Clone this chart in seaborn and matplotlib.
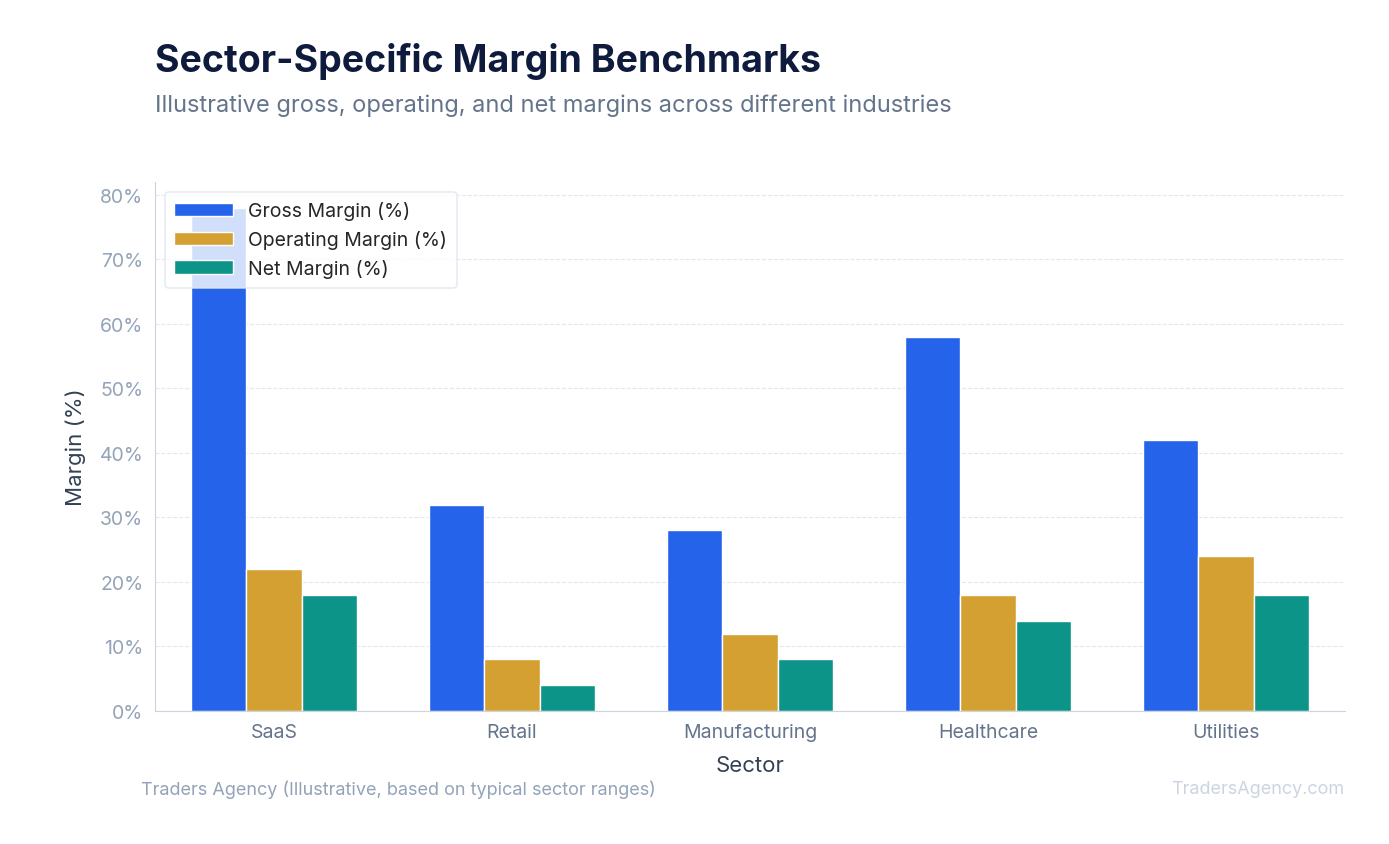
import pandas as pd
import seaborn as sns
import matplotlib.pyplot as plt
from matplotlib.ticker import FuncFormatter

sectors = ['SaaS', 'Retail', 'Manufacturing', 'Healthcare', 'Utilities']
gross = [78, 32, 28, 58, 42]
operating = [22, 8, 12, 18, 24]
net = [18, 4, 8, 14, 18]
series_names = ['Gross Margin (%)', 'Operating Margin (%)', 'Net Margin (%)']
colors = ['#2563eb', '#d4a032', '#0d9488']

df = pd.DataFrame({'Sector': sectors, series_names[0]: gross,
                   series_names[1]: operating, series_names[2]: net})
df = df.melt(id_vars='Sector', var_name='Metric', value_name='Margin')

sns.set_style('white')
plt.rcParams['font.family'] = ['Inter', 'DejaVu Sans']

fig = plt.figure(figsize=(13.89, 8.45), dpi=100)
ax = fig.add_axes([155 / 1389, 1 - 712 / 845, 1190 / 1389, 529 / 845])
sns.barplot(data=df, x='Sector', y='Margin', hue='Metric', palette=colors,
            width=0.7, saturation=1, ax=ax)

ax.set_ylim(0, 82)
ax.set_yticks(range(0, 81, 10))
ax.yaxis.set_major_formatter(FuncFormatter(lambda v, p: f'{v:.0f}%'))
ax.grid(axis='y', color='#e5e7eb', linestyle='--', linewidth=0.8)
ax.set_axisbelow(True)
for s in ['top', 'right']:
    ax.spines[s].set_visible(False)
for s in ['left', 'bottom']:
    ax.spines[s].set_color('#cbd5e1')
ax.tick_params(axis='y', colors='#94a3b8', labelsize=14, length=5, color='#cbd5e1')
ax.tick_params(axis='x', colors='#64748b', labelsize=14, length=5, color='#cbd5e1')
for lbl in ax.get_xticklabels():
    lbl.set_color('#64748b')
ax.set_xlabel('Sector', fontsize=16, color='#334155', labelpad=10)
ax.set_ylabel('Margin (%)', fontsize=16, color='#334155', labelpad=10)

leg = ax.legend(loc='upper left', fontsize=14, frameon=True, framealpha=0.8,
                edgecolor='#e2e8f0', borderpad=0.5, handlelength=3)
leg.get_frame().set_linewidth(1.2)

fig.text(155 / 1389, 1 - 62 / 845, 'Sector-Specific Margin Benchmarks', fontsize=27,
         fontweight='bold', color='#0f1b3d', va='center')
fig.text(155 / 1389, 1 - 106 / 845,
         'Illustrative gross, operating, and net margins across different industries',
         fontsize=17, color='#64748b', va='center')
fig.text(141 / 1389, 1 - 790 / 845, 'Traders Agency (Illustrative, based on typical sector ranges)',
         fontsize=13, color='#94a3b8', va='center')
fig.text(1344 / 1389, 1 - 790 / 845, 'TradersAgency.com', fontsize=13, color='#cbd5e1',
         va='center', ha='right')

fig.savefig('out.png', dpi=100)
